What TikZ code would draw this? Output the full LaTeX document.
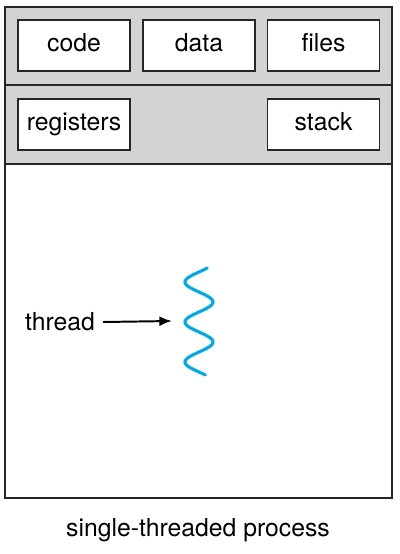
\documentclass[tikz,border=0pt]{standalone}
\usepackage{fontspec}
\setmainfont{TeX Gyre Heros}
\usetikzlibrary{arrows.meta}
\definecolor{procgray}{RGB}{210,211,213}
\definecolor{threadblue}{RGB}{0,170,230}
\tikzset{
  partbox/.style={draw=black!85,fill=white,line width=0.9pt,minimum width=2.8cm,minimum height=1.275cm,inner sep=0pt,text height=13.2pt,text depth=4.4pt,font=\fontsize{17.6}{20}\selectfont},
  label/.style={inner sep=0pt,font=\fontsize{17.6}{20}\selectfont}
}
\begin{document}
\begin{tikzpicture}[x=0.025cm,y=-0.025cm]
 \useasboundingbox (0,0) rectangle (400,554);
 % process frame
 \draw[fill=procgray,draw=none](5,7) rectangle (392,164);
 \draw[line width=0.9pt,draw=black!85](5,7) rectangle (392,498);
 \draw[line width=0.9pt,draw=black!85](5,85)--(392,85);
 \draw[line width=0.9pt,draw=black!85](5,164)--(392,164);
 % shared parts
 \node[partbox] (code) at (74,45.5) {code};
 \node[partbox] (data) at (199,45.5) {data};
 \node[partbox] (files) at (323.5,45.5) {files};
 \node[partbox] (registers) at (74,124.5) {registers};
 \node[partbox] (stack) at (323.5,124.5) {stack};
 % the thread
 \draw[threadblue,line width=2.2pt,line cap=round,domain=268:375,samples=120,smooth]
   plot ({199-14*sin(9*(\x-272))},\x);
 \node[label] (thread) at (60,322) {thread};
 \coordinate (wave) at (172,321);
 \draw[-{Latex[length=9pt,width=7pt]},line width=1.4pt](thread.east)++(8,0)--(wave);
 \node[label] (caption) at (198,530) {single-threaded process};
\end{tikzpicture}
\end{document}
